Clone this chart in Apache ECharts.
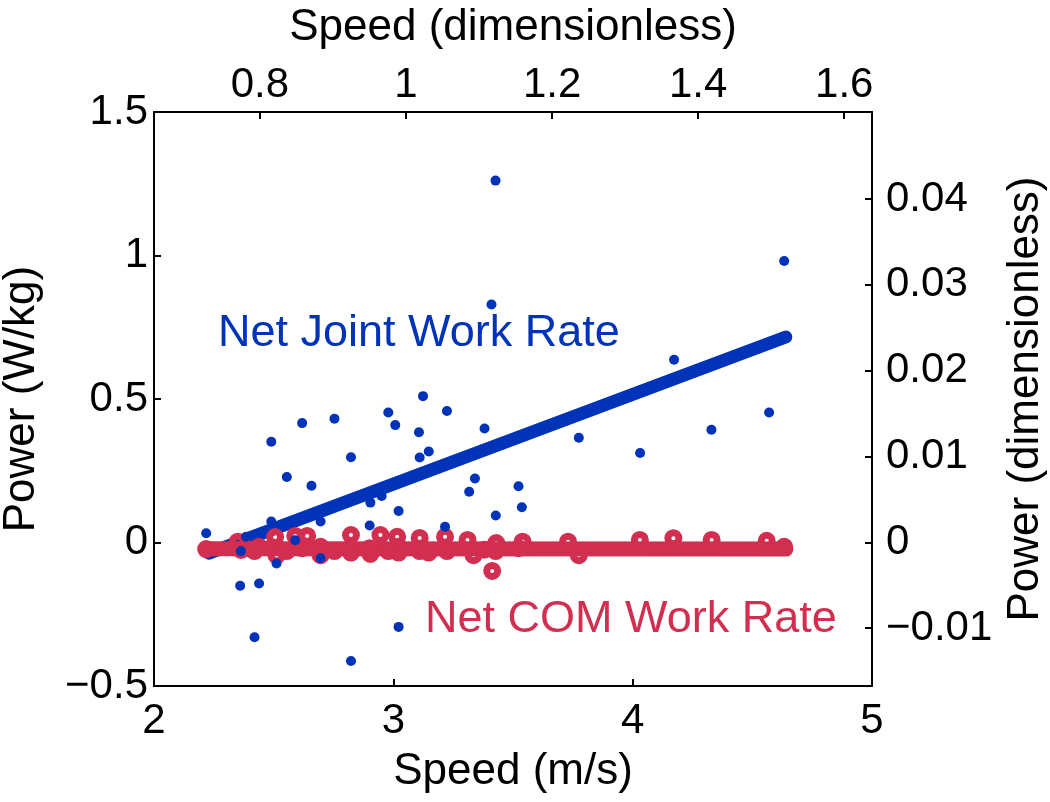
<!DOCTYPE html>
<html>
<head>
<meta charset="utf-8">
<script src="https://cdn.jsdelivr.net/npm/echarts@6/dist/echarts.min.js"></script>
<style>html,body{margin:0;padding:0;background:#fff;}#chart{width:1050px;height:802px;}</style>
</head>
<body>
<div id="chart"></div>
<script>
// ---- data ----
const jointSpeed = [2.218, 2.360, 2.363, 2.385, 2.420, 2.439, 2.490, 2.490, 2.512, 2.555,
  2.590, 2.619, 2.658, 2.696, 2.696, 2.754, 2.823, 2.823, 2.901, 2.904,
  2.951, 2.979, 3.008, 3.022, 3.022, 3.107, 3.110, 3.124, 3.148, 3.216,
  3.224, 3.317, 3.341, 3.381, 3.410, 3.427, 3.428, 3.523, 3.537, 3.775,
  4.031, 4.173, 4.329, 4.570, 4.633];
const jointPower = [0.032, -0.151, -0.030, 0.020, -0.330, -0.143, 0.351, 0.073, -0.073, 0.228,
  0.008, 0.416, 0.198, 0.073, -0.055, 0.431, 0.297, -0.413, 0.059, 0.139,
  0.162, 0.453, 0.409, 0.110, -0.294, 0.384, 0.296, 0.510, 0.317, 0.055,
  0.458, 0.177, 0.223, 0.397, 0.829, 1.261, 0.094, 0.196, 0.123, 0.365,
  0.312, 0.637, 0.393, 0.453, 0.981];
const comSpeed = [2.218, 2.350, 2.363, 2.385, 2.420, 2.439, 2.490, 2.506, 2.512, 2.555,
  2.590, 2.619, 2.640, 2.696, 2.696, 2.754, 2.823, 2.823, 2.901, 2.904,
  2.946, 2.979, 3.016, 3.022, 3.022, 3.110, 3.110, 3.124, 3.148, 3.216,
  3.224, 3.310, 3.335, 3.381, 3.413, 3.430, 3.428, 3.523, 3.540, 3.730,
  3.775, 4.030, 4.170, 4.330, 4.560, 4.633];
const comPower = [-0.023, 0.003, -0.026, -0.020, -0.030, -0.015, -0.020, 0.019, -0.045, -0.030,
  0.023, -0.020, 0.023, -0.044, -0.015, -0.030, 0.026, -0.035, -0.020, -0.040,
  0.026, -0.030, 0.020, -0.035, -0.015, 0.016, -0.030, -0.020, -0.035, 0.020,
  -0.030, 0.009, -0.044, -0.025, -0.099, -0.002, -0.030, -0.020, 0.003, 0.003,
  -0.044, 0.009, 0.015, 0.009, 0.006, -0.015];
const jointFitSpeed = [2.230, 4.640];
const jointFitPower = [-0.037, 0.716];
const comFitSpeed = [2.218, 4.640];
const comFitPower = [-0.022, -0.023];

const bottomTicks = [2, 3, 4, 5];
const leftTicks = [-0.5, 0, 0.5, 1, 1.5];
const topTicks = [0.8, 1, 1.2, 1.4, 1.6];
const rightTicks = [-0.01, 0, 0.01, 0.02, 0.03, 0.04];

const speedDimRange = [0.655, 1.638];
const powerDimRange = [-0.01674, 0.05015];

const axisTitleBottom = 'Speed (m/s)';
const axisTitleTop = 'Speed (dimensionless)';
const axisTitleLeft = 'Power (W/kg)';
const axisTitleRight = 'Power (dimensionless)';
const labelJoint = 'Net Joint Work Rate';
const labelCOM = 'Net COM Work Rate';

// ---- chart ----
const BLUE = '#0033B8';
const RED = '#D22F50';
const FONT = 'Liberation Sans, Arial, Helvetica, sans-serif';
const minusFmt = v => (v < 0 ? '\u2212' + String(Math.abs(v)) : String(v));

const zip = (a, b) => a.map((x, i) => [x, b[i]]);

const axisCommon = {
  axisLine: { show: true, onZero: false, lineStyle: { color: '#000', width: 2 } },
  axisTick: { show: true, inside: true, length: 7, lineStyle: { color: '#000', width: 2 } },
  splitLine: { show: false },
  nameTextStyle: { color: '#000', fontSize: 44, fontFamily: FONT },
};
const labelCommon = { color: '#000', fontSize: 42, fontFamily: FONT };

const chart = echarts.init(document.getElementById('chart'), null, { renderer: 'canvas' });
chart.setOption({
  animation: false,
  backgroundColor: '#fff',
  grid: { left: 154, top: 112, width: 718, height: 574, containLabel: false, outerBoundsMode: 'none' },
  xAxis: [
    Object.assign({}, axisCommon, {
      type: 'value', position: 'bottom', min: bottomTicks[0], max: bottomTicks[bottomTicks.length - 1], interval: 1,
      name: axisTitleBottom, nameLocation: 'middle', nameGap: 64,
      axisLabel: Object.assign({}, labelCommon, { margin: 14, customValues: bottomTicks }),
      axisTick: Object.assign({}, axisCommon.axisTick, { customValues: bottomTicks }),
    }),
    Object.assign({}, axisCommon, {
      type: 'value', position: 'top', min: speedDimRange[0], max: speedDimRange[1],
      name: axisTitleTop, nameLocation: 'middle', nameGap: 62,
      axisLabel: Object.assign({}, labelCommon, { margin: 6, customValues: topTicks }),
      axisTick: Object.assign({}, axisCommon.axisTick, { customValues: topTicks }),
    }),
  ],
  yAxis: [
    Object.assign({}, axisCommon, {
      type: 'value', position: 'left', min: leftTicks[0], max: leftTicks[leftTicks.length - 1], interval: 0.5,
      name: axisTitleLeft, nameLocation: 'middle', nameGap: 110, nameRotate: 90,
      axisLabel: Object.assign({}, labelCommon, { margin: 6, customValues: leftTicks, formatter: minusFmt }),
      axisTick: Object.assign({}, axisCommon.axisTick, { customValues: leftTicks }),
    }),
    Object.assign({}, axisCommon, {
      type: 'value', position: 'right', min: powerDimRange[0], max: powerDimRange[1],
      name: axisTitleRight, nameLocation: 'middle', nameGap: 132, nameRotate: 90,
      axisLabel: Object.assign({}, labelCommon, { margin: 14, customValues: rightTicks, formatter: minusFmt }),
      axisTick: Object.assign({}, axisCommon.axisTick, { customValues: rightTicks }),
    }),
  ],
  series: [
    {
      type: 'line', name: 'joint fit', xAxisIndex: 0, yAxisIndex: 0, z: 2,
      data: zip(jointFitSpeed, jointFitPower), symbol: 'none',
      lineStyle: { color: BLUE, width: 13, cap: 'round' },
    },
    {
      type: 'line', name: 'com fit', xAxisIndex: 0, yAxisIndex: 0, z: 3,
      data: zip(comFitSpeed, comFitPower), symbol: 'none',
      lineStyle: { color: RED, width: 15, cap: 'round' },
    },
    {
      type: 'scatter', name: 'com', xAxisIndex: 0, yAxisIndex: 0, z: 4,
      data: zip(comSpeed, comPower), symbol: 'circle', symbolSize: 11,
      itemStyle: { color: 'rgba(0,0,0,0)', borderColor: RED, borderWidth: 7, opacity: 1 },
    },
    {
      type: 'scatter', name: 'joint', xAxisIndex: 0, yAxisIndex: 0, z: 5,
      data: zip(jointSpeed, jointPower), symbol: 'circle', symbolSize: 10,
      itemStyle: { color: BLUE, opacity: 1 },
    },
  ],
  graphic: [
    { type: 'text', left: 218, top: 311, z: 10,
      style: { text: labelJoint, fill: BLUE, font: '45px ' + FONT } },
    { type: 'text', left: 425, top: 597, z: 10,
      style: { text: labelCOM, fill: RED, font: '45px ' + FONT } },
  ],
});
</script>
</body>
</html>
